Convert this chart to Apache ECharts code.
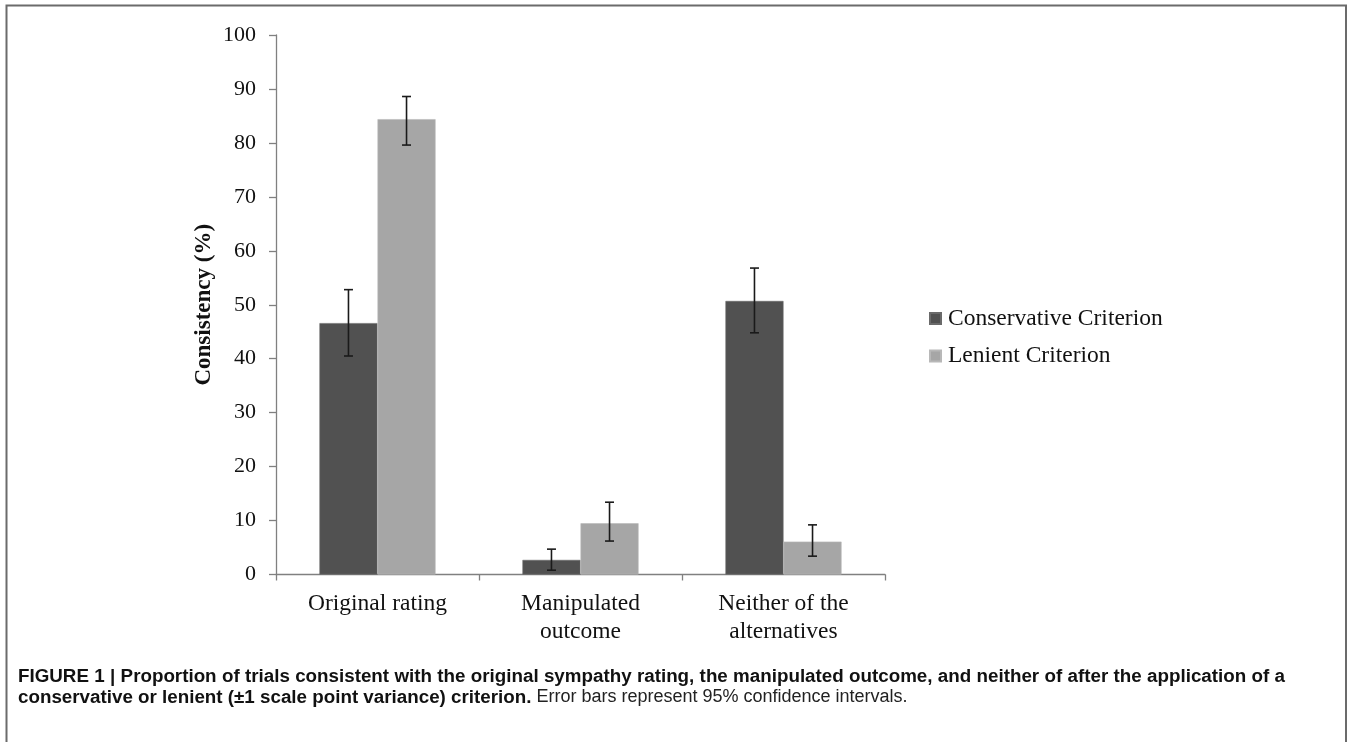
<!DOCTYPE html>
<html><head><meta charset="utf-8">
<script src="https://cdn.jsdelivr.net/npm/echarts@6/dist/echarts.min.js"></script>
<style>html,body{margin:0;padding:0;background:#fff}#c{width:1349px;height:742px}</style>
</head><body><div id="c"></div>
<script>
const categories = ['Original rating', 'Manipulated\noutcome', 'Neither of the\nalternatives'];
const seriesNames = ['Conservative Criterion', 'Lenient Criterion'];
const conservative = [46.6, 2.7, 50.7];
const conservativeLow = [40.5, 0.8, 44.8];
const conservativeHigh = [52.8, 4.7, 56.8];
const lenient = [84.4, 9.5, 6.1];
const lenientLow = [79.6, 6.2, 3.4];
const lenientHigh = [88.6, 13.4, 9.2];
const yMin = 0, yMax = 100, yStep = 10;
const yTitle = 'Consistency (%)';
const captionLine1 = 'FIGURE 1 | Proportion of trials consistent with the original sympathy rating, the manipulated outcome, and neither of after the application of a';
const captionLine2Bold = 'conservative or lenient (\u00b11 scale point variance) criterion.';
const captionLine2Normal = ' Error bars represent 95% confidence intervals.';

const SERIF = '"Liberation Serif", "Times New Roman", serif';
const CAP = '"Liberation Sans Narrow", "Arial Narrow", "Liberation Sans", sans-serif';
const BAR_FRAC = 0.286;
const colors = ['#515151', '#a6a6a6'];
const CAP_BOLD = 'bold 18.8px ' + CAP;
const CAP_NORM = '18px "Liberation Sans", Arial, sans-serif';

function errSeries(low, high, sign) {
  return {
    type: 'custom',
    silent: true,
    z: 10,
    data: categories.map((c, i) => [i, high[i], low[i]]),
    renderItem: function (params, api) {
      const i = api.value(0);
      const band = api.size([1, 0])[0];
      const off = sign * band * BAR_FRAC / 2;
      const t = api.coord([i, api.value(1)]);
      const b = api.coord([i, api.value(2)]);
      const x = t[0] + off;
      const cap = 4.5;
      const st = { stroke: '#1a1a1a', lineWidth: 1.6 };
      return { type: 'group', children: [
        { type: 'line', shape: { x1: x, y1: t[1], x2: x, y2: b[1] }, style: st },
        { type: 'line', shape: { x1: x - cap, y1: t[1], x2: x + cap, y2: t[1] }, style: st },
        { type: 'line', shape: { x1: x - cap, y1: b[1], x2: x + cap, y2: b[1] }, style: st }
      ]};
    }
  };
}

// justified first caption line: words spread between left and right margins
function justifiedLine(text, font, x0, x1, top) {
  const ctx = document.createElement('canvas').getContext('2d');
  ctx.font = font;
  const words = text.split(' ');
  const widths = words.map(w => ctx.measureText(w).width);
  const total = widths.reduce((a, b) => a + b, 0);
  const gap = (x1 - x0 - total) / (words.length - 1);
  const out = [];
  let x = x0;
  words.forEach((w, k) => {
    out.push({ type: 'text', x: x, y: top, silent: true, style: { text: w, font: font, fill: '#111', textVerticalAlign: 'top' } });
    x += widths[k] + gap;
  });
  return out;
}

const chart = echarts.init(document.getElementById('c'), null, { renderer: 'canvas' });
chart.setOption({
  backgroundColor: '#fff',
  animation: false,
  grid: { left: 276, right: 464, top: 35, bottom: 167.5, containLabel: false },
  legend: {
    orient: 'vertical', left: 924, top: 301.5, padding: 5,
    itemWidth: 11, itemHeight: 11, itemGap: 13.5, icon: 'rect',
    data: seriesNames,
    textStyle: { fontFamily: SERIF, fontSize: 23.5, color: '#111', lineHeight: 24, padding: [0, 0, 0, 2] }
  },
  xAxis: {
    type: 'category', data: categories,
    axisLine: { lineStyle: { color: '#808080', width: 1.3 } },
    axisTick: { show: true, length: 6, lineStyle: { color: '#808080', width: 1.3 } },
    axisLabel: { fontFamily: SERIF, fontSize: 23.5, color: '#111', margin: 15, lineHeight: 28, interval: 0 }
  },
  yAxis: {
    type: 'value', min: yMin, max: yMax, interval: yStep,
    name: yTitle, nameLocation: 'middle', nameRotate: 90, nameGap: 60,
    nameTextStyle: { fontFamily: SERIF, fontSize: 23, fontWeight: 'bold', color: '#111' },
    axisLine: { show: true, lineStyle: { color: '#808080', width: 1.3 } },
    axisTick: { show: true, length: 7, lineStyle: { color: '#808080', width: 1.3 } },
    splitLine: { show: false },
    axisLabel: { fontFamily: SERIF, fontSize: 22, color: '#111', margin: 20 }
  },
  series: [
    { name: seriesNames[0], type: 'bar', data: conservative, barWidth: (BAR_FRAC * 100) + '%', barGap: '0%',
      itemStyle: { color: colors[0], borderColor: '#6a6a6a', borderWidth: 0.6 } },
    { name: seriesNames[1], type: 'bar', data: lenient, barWidth: (BAR_FRAC * 100) + '%', barGap: '0%',
      itemStyle: { color: colors[1], borderColor: '#b8b8b8', borderWidth: 0.6 } },
    errSeries(conservativeLow, conservativeHigh, -1),
    errSeries(lenientLow, lenientHigh, 1)
  ],
  graphic: [
    { type: 'rect', shape: { x: 6.5, y: 5.5, width: 1339.5, height: 800 }, style: { fill: 'none', stroke: '#6b6b6b', lineWidth: 2 }, silent: true },
    { type: 'group', children: justifiedLine(captionLine1, CAP_BOLD, 18, 1285, 667) },
    { type: 'text', left: 18, top: 688, style: {
      text: '{b|' + captionLine2Bold + '}{n|' + captionLine2Normal + '}',
      rich: { b: { font: CAP_BOLD, fill: '#111', lineHeight: 22 }, n: { font: CAP_NORM, fill: '#222', lineHeight: 22 } } } }
  ]
});
</script></body></html>
